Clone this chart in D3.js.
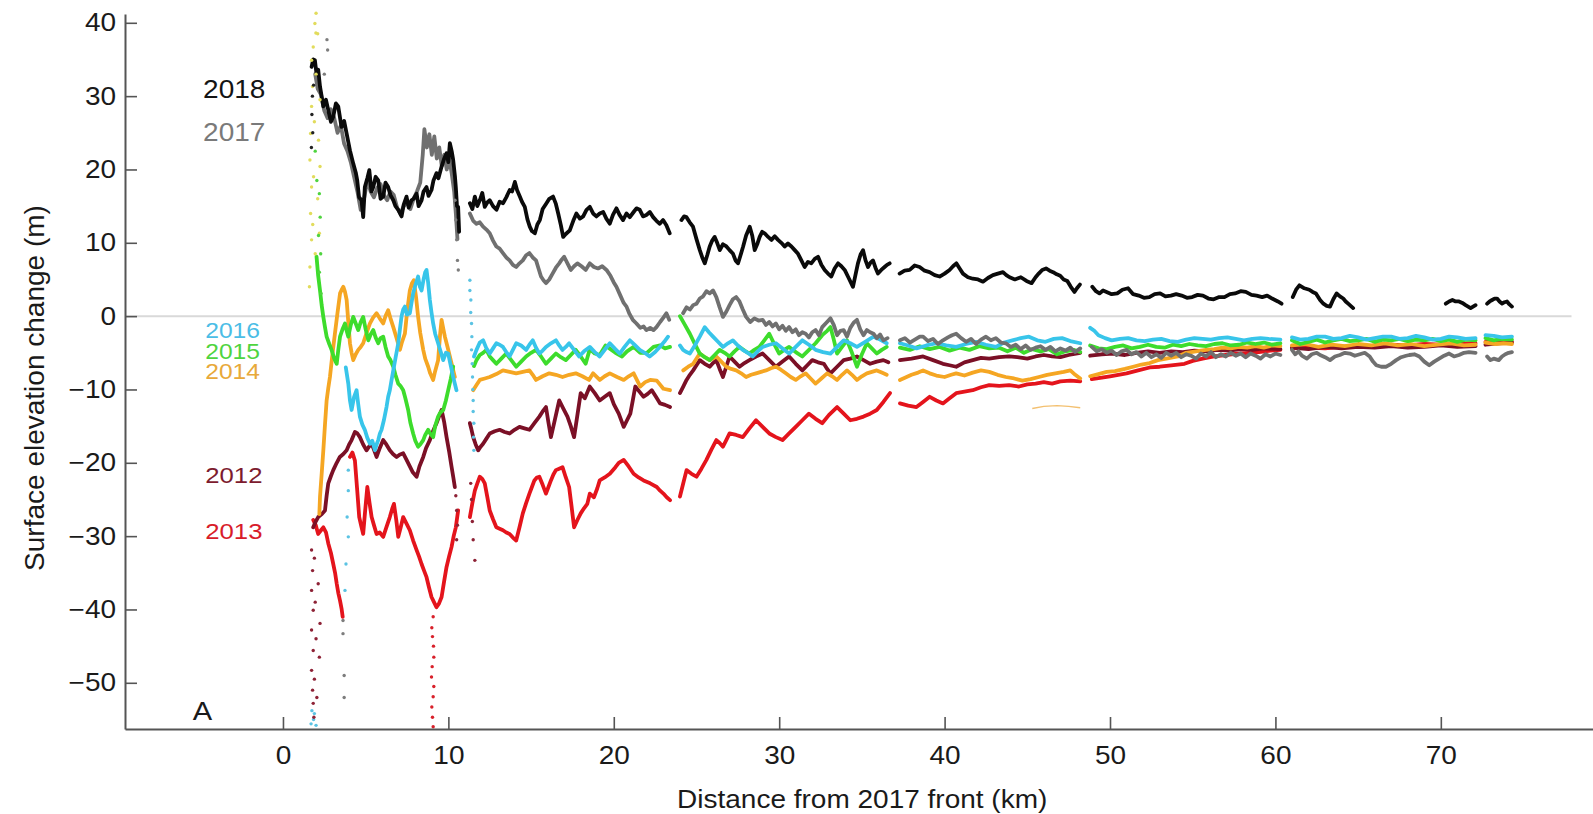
<!DOCTYPE html>
<html>
<head>
<meta charset="utf-8">
<script src="https://cdn.jsdelivr.net/npm/d3@7"></script>
<style>
  body { margin: 0; background: #fff; }
  text { font-family: "Liberation Sans", Arial, Helvetica, sans-serif; }
</style>
</head>
<body>
<div id="chart"></div>
<script>
// distance from 2017 front (km), surface elevation change (m); null marks a gap in the track
var s2018 = [[1.73,34.0],[1.83,35.0],[1.93,34.9],[2.03,33.0],[2.13,33.6],[2.24,31.3],[2.44,28.6],[2.6,29.5],[2.74,28.1],[2.9,26.5],[3.04,27.2],[3.2,29.0],[3.34,28.6],[3.54,25.8],[3.7,26.6],[3.85,24.9],[4.05,22.6],[4.25,20.8],[4.4,19.6],[4.49,18.5],[4.6,16.2],[4.75,15.8],[4.85,13.5],[4.95,17.6],[5.1,18.8],[5.22,19.9],[5.35,17.0],[5.46,17.6],[5.6,19.0],[5.76,18.5],[5.9,16.0],[6.06,16.3],[6.2,18.2],[6.36,17.6],[6.5,16.5],[6.67,15.8],[6.8,15.0],[6.97,14.5],[7.17,13.6],[7.3,15.2],[7.47,16.3],[7.6,14.8],[7.77,15.8],[7.9,16.0],[8.08,16.7],[8.2,15.0],[8.38,15.8],[8.5,17.0],[8.68,17.6],[8.8,16.4],[8.98,17.2],[9.1,18.5],[9.28,19.5],[9.4,18.8],[9.59,20.4],[9.75,21.5],[9.89,22.2],[10.0,21.0],[10.09,23.6],[10.2,22.5],[10.29,21.3],[10.4,19.0],[10.45,17.6],[10.52,15.0],[10.59,14.9],[10.65,11.5],
  [10.9,null],
  [11.3,15.4],[11.45,14.6],[11.6,16.3],[11.75,15.0],[11.9,15.8],[12.05,16.8],[12.2,14.9],[12.35,15.5],[12.5,15.8],[12.7,15.0],[12.91,14.5],[13.1,15.6],[13.31,15.4],[13.5,16.2],[13.71,17.2],[13.85,17.0],[14.02,18.3],[14.15,17.2],[14.32,16.3],[14.45,15.6],[14.62,14.9],[14.78,13.2],[14.92,12.2],[15.05,11.6],[15.23,11.3],[15.38,12.5],[15.53,13.1],[15.7,14.6],[15.93,15.4],[16.1,16.0],[16.33,16.3],[16.5,15.3],[16.64,14.0],[16.8,12.4],[16.94,10.8],[17.1,11.2],[17.34,11.7],[17.55,13.0],[17.74,14.0],[17.95,13.3],[18.15,13.6],[18.35,14.5],[18.55,14.9],[18.75,14.0],[18.95,13.6],[19.15,14.0],[19.36,14.2],[19.55,13.3],[19.76,12.6],[19.95,13.8],[20.16,14.7],[20.35,13.8],[20.56,13.1],[20.77,14.0],[20.97,13.5],[21.2,14.2],[21.37,14.7],[21.57,14.5],[21.77,13.6],[21.97,13.8],[22.18,14.2],[22.38,13.5],[22.58,13.0],[22.78,12.6],[22.98,13.1],[23.18,12.4],[23.38,11.3],
  [23.7,null],
  [24.09,13.1],[24.25,13.6],[24.39,13.5],[24.59,12.8],[24.79,12.2],[25.0,10.5],[25.2,9.0],[25.35,8.0],[25.5,7.2],[25.65,8.3],[25.8,9.5],[25.95,10.3],[26.1,10.8],[26.25,10.0],[26.41,9.0],[26.6,9.8],[26.81,9.5],[27.0,9.0],[27.21,8.5],[27.36,7.6],[27.51,7.2],[27.65,8.2],[27.82,9.5],[28.0,11.0],[28.22,12.2],[28.37,11.0],[28.52,9.0],[28.67,9.8],[28.82,10.8],[28.97,11.5],[29.12,11.3],[29.33,10.8],[29.53,10.4],[29.73,10.9],[29.93,10.4],[30.13,10.0],[30.33,9.5],[30.53,9.9],[30.74,9.5],[30.94,9.0],[31.14,8.5],[31.34,7.6],[31.54,6.7],[31.74,7.4],[31.94,7.2],[32.15,7.8],[32.35,8.1],[32.55,7.0],[32.75,6.3],[32.95,5.8],[33.15,5.4],[33.35,6.5],[33.56,7.2],[33.76,6.8],[33.96,6.3],[34.2,5.2],[34.46,4.0],[34.6,5.5],[34.76,7.2],[34.92,8.4],[35.07,9.0],[35.22,7.6],[35.37,6.7],[35.52,7.3],[35.67,7.6],[35.82,6.6],[35.97,5.8],[36.17,6.3],[36.37,6.7],[36.52,7.0],[36.68,7.2],
  [37.0,null],
  [37.28,5.8],[37.58,6.2],[37.89,6.3],[38.19,6.9],[38.49,6.7],[38.79,6.2],[39.09,6.0],[39.4,5.6],[39.7,5.4],[40.0,5.8],[40.3,6.3],[40.51,6.8],[40.71,7.2],[40.91,6.5],[41.11,5.8],[41.41,5.3],[41.71,5.1],[42.02,5.0],[42.32,4.7],[42.62,5.2],[42.92,5.6],[43.22,5.8],[43.53,6.0],[43.73,5.6],[43.93,5.3],[44.25,5.0],[44.61,5.3],[44.95,4.8],[45.26,4.5],[45.5,5.3],[45.69,5.8],[45.9,6.3],[46.13,6.5],[46.35,6.2],[46.56,6.0],[46.78,5.7],[46.99,5.5],[47.2,5.0],[47.42,4.8],[47.63,4.0],[47.85,3.3],[48.0,3.8],[48.18,4.3],
  [48.5,null],
  [48.93,4.0],[49.15,3.4],[49.36,3.1],[49.58,3.5],[49.79,3.3],[50.1,3.0],[50.44,3.1],[50.75,3.6],[51.09,3.8],[51.4,3.0],[51.74,2.8],[52.05,2.5],[52.38,2.6],[52.7,3.0],[53.03,3.1],[53.35,2.7],[53.68,2.8],[54.0,3.0],[54.33,2.8],[54.65,2.5],[54.97,2.6],[55.3,2.9],[55.62,2.8],[55.95,2.4],[56.27,2.3],[56.6,2.6],[56.92,2.6],[57.25,3.0],[57.56,3.1],[57.9,3.4],[58.21,3.3],[58.55,2.9],[58.86,2.8],[59.2,2.6],[59.5,2.8],[59.8,2.4],[60.15,2.0],[60.37,1.7],
  [60.7,null],
  [61.05,2.6],[61.25,3.6],[61.45,4.2],[61.75,3.8],[62.05,3.6],[62.25,3.3],[62.45,3.1],[62.7,2.2],[62.9,1.7],[63.1,1.4],[63.3,1.3],[63.5,2.3],[63.7,3.1],[63.9,2.7],[64.1,2.4],[64.25,2.0],[64.4,1.7],[64.55,1.4],[64.7,1.1],
  [65.0,null],
  [70.3,1.7],[70.5,2.0],[70.7,2.2],[70.9,2.0],[71.1,2.0],[71.3,1.8],[71.5,1.5],[71.65,1.3],[71.8,1.1],[71.95,1.3],[72.1,1.5],
  [72.4,null],
  [72.8,1.7],[72.95,2.0],[73.1,2.2],[73.25,2.4],[73.4,2.4],[73.55,2.0],[73.7,1.7],[73.85,1.9],[74.0,2.0],[74.15,1.6],[74.3,1.3]];

var s2017 = [[1.95,33.0],[2.1,31.0],[2.3,30.2],[2.5,28.0],[2.7,27.0],[2.9,28.2],[3.1,27.0],[3.3,25.0],[3.5,26.0],[3.7,23.5],[3.9,22.5],[4.1,21.0],[4.3,19.0],[4.5,17.0],[4.7,14.5],[4.9,16.0],[5.1,18.5],[5.3,17.0],[5.5,16.2],[5.7,17.5],[5.9,18.0],[6.1,16.5],[6.3,15.8],[6.5,17.0],[6.7,16.5],[6.9,14.8],[7.1,14.0],[7.3,15.0],[7.5,15.5],[7.7,14.6],[7.9,16.0],[8.1,17.0],[8.3,18.2],[8.45,22.0],[8.55,25.5],[8.7,23.0],[8.85,24.8],[9.0,22.0],[9.15,24.5],[9.3,21.5],[9.45,23.0],[9.6,20.5],[9.75,22.0],[9.9,20.0],[10.05,21.5],[10.2,19.5],[10.35,17.0],[10.45,14.0],[10.55,10.5],
  [10.9,null],
  [11.3,14.0],[11.5,13.0],[11.7,12.6],[11.9,12.8],[12.1,12.2],[12.3,11.8],[12.5,11.3],[12.7,10.3],[12.9,9.5],[13.1,9.2],[13.3,8.6],[13.5,8.0],[13.7,7.6],[13.9,7.0],[14.1,6.7],[14.3,7.2],[14.5,7.6],[14.7,8.3],[14.9,8.6],[15.1,8.0],[15.3,7.6],[15.45,6.5],[15.6,5.4],[15.75,4.9],[15.9,4.5],[16.1,5.0],[16.3,5.8],[16.5,6.6],[16.7,7.2],[16.85,7.7],[17.0,8.1],[17.2,7.2],[17.4,6.3],[17.6,6.8],[17.8,7.2],[18.05,6.8],[18.3,6.3],[18.55,7.2],[18.8,6.7],[19.05,6.5],[19.3,6.8],[19.56,6.3],[19.8,5.5],[20.0,4.6],[20.16,4.0],[20.4,2.8],[20.6,1.8],[20.77,1.3],[20.95,0.3],[21.15,-0.5],[21.37,-1.0],[21.6,-1.6],[21.8,-1.4],[21.97,-1.9],[22.2,-1.6],[22.4,-1.9],[22.58,-1.5],[22.8,-0.8],[23.0,-0.2],[23.18,0.4],[23.35,-0.5],
  [23.7,null],
  [24.19,0.4],[24.4,1.2],[24.6,0.9],[24.8,1.5],[25.0,1.7],[25.2,2.4],[25.4,2.7],[25.6,3.4],[25.8,3.1],[26.0,3.5],[26.2,2.6],[26.4,1.2],[26.6,-0.1],[26.8,0.6],[27.0,1.5],[27.2,2.3],[27.4,2.6],[27.6,2.0],[27.8,0.9],[28.0,-0.1],[28.25,-0.8],[28.5,-0.3],[28.75,-0.6],[29.0,-0.5],[29.2,-1.2],[29.4,-0.8],[29.6,-1.4],[29.8,-1.0],[30.0,-1.8],[30.2,-1.3],[30.4,-2.0],[30.6,-1.5],[30.8,-2.2],[31.0,-1.8],[31.2,-2.6],[31.4,-2.2],[31.6,-2.4],[31.8,-2.9],[32.0,-2.2],[32.2,-1.9],[32.4,-2.6],[32.6,-1.5],[32.85,-0.9],[33.1,-0.3],[33.3,-1.2],[33.5,-2.6],[33.7,-2.0],[33.9,-1.9],[34.1,-2.8],[34.3,-1.6],[34.5,-0.9],[34.7,-0.5],[34.9,-1.8],[35.1,-2.6],[35.3,-1.9],[35.5,-2.2],[35.7,-2.4],[35.9,-3.0],[36.1,-2.5],[36.3,-3.3],[36.55,-3.0],
  [37.0,null],
  [37.3,-3.3],[37.6,-3.0],[37.9,-3.6],[38.2,-3.2],[38.5,-2.8],[38.7,-2.8],[39.0,-3.4],[39.3,-3.1],[39.6,-3.8],[39.9,-3.3],[40.2,-2.9],[40.45,-2.6],[40.7,-2.4],[41.0,-3.0],[41.3,-3.5],[41.6,-3.1],[41.9,-3.8],[42.2,-3.2],[42.5,-2.8],[42.8,-3.3],[43.1,-3.0],[43.4,-3.6],[43.7,-3.7],[44.0,-4.2],[44.3,-3.9],[44.6,-4.5],[44.9,-4.0],[45.2,-4.6],[45.5,-4.3],[45.8,-4.1],[46.1,-4.6],[46.4,-4.2],[46.7,-4.8],[47.0,-4.4],[47.3,-4.7],[47.6,-4.3],[47.9,-4.9],[48.2,-4.4],
  [48.5,null],
  [48.9,-4.2],[49.2,-4.8],[49.5,-4.5],[49.8,-5.0],[50.1,-4.7],[50.4,-5.3],[50.7,-4.8],[51.0,-4.6],[51.3,-5.2],[51.6,-4.9],[51.9,-5.5],[52.2,-5.0],[52.5,-5.6],[52.8,-5.2],[53.1,-5.7],[53.4,-5.0],[53.7,-5.4],[54.0,-5.0],[54.3,-5.6],[54.6,-5.2],[54.9,-5.4],[55.2,-5.8],[55.5,-5.1],[55.8,-5.5],[56.1,-4.9],[56.4,-5.6],[56.7,-5.2],[57.0,-5.5],[57.3,-5.0],[57.6,-5.4],[57.9,-5.1],[58.2,-5.6],[58.5,-5.1],[58.8,-5.4],[59.1,-5.8],[59.4,-5.2],[59.7,-5.5],[60.0,-5.1],[60.3,-5.3],
  [60.7,null],
  [61.0,-4.6],[61.2,-5.2],[61.4,-4.8],[61.6,-5.4],[61.9,-5.8],[62.2,-5.2],[62.5,-5.0],[62.7,-5.3],[63.0,-5.6],[63.3,-6.0],[63.6,-5.5],[63.9,-5.3],[64.2,-5.0],[64.5,-5.1],[64.8,-5.4],[65.1,-5.2],[65.4,-5.0],[65.7,-5.5],[65.9,-6.2],[66.1,-6.7],[66.4,-6.9],[66.7,-6.9],[67.0,-6.5],[67.3,-6.0],[67.6,-5.6],[67.9,-5.4],[68.1,-5.3],[68.4,-5.2],[68.7,-5.5],[69.0,-6.2],[69.3,-6.7],[69.6,-6.2],[69.9,-5.8],[70.2,-5.4],[70.5,-5.1],[70.8,-5.5],[71.1,-5.3],[71.4,-5.0],[71.7,-4.9],[72.1,-5.0],
  [72.4,null],
  [72.8,-5.5],[73.0,-6.0],[73.2,-5.8],[73.5,-6.0],[73.7,-5.5],[73.9,-5.2],[74.1,-5.0],[74.3,-4.9]];

var s2016 = [[3.8,-7.0],[3.95,-9.2],[4.05,-11.5],[4.15,-12.8],[4.3,-11.0],[4.45,-10.1],[4.55,-12.0],[4.65,-13.7],[4.8,-14.8],[4.95,-15.5],[5.1,-16.6],[5.26,-17.4],[5.4,-17.0],[5.56,-18.3],[5.66,-17.5],[5.76,-16.9],[5.86,-16.0],[5.96,-15.5],[6.1,-14.2],[6.26,-12.4],[6.36,-11.0],[6.46,-10.1],[6.56,-8.8],[6.67,-7.4],[6.82,-5.5],[6.97,-3.7],[7.07,-1.8],[7.17,0.0],[7.27,0.9],[7.37,1.3],[7.5,0.2],[7.67,0.4],[7.77,1.8],[7.87,3.1],[8.0,4.2],[8.17,5.4],[8.28,4.0],[8.38,3.5],[8.5,5.0],[8.6,6.0],[8.68,6.3],[8.78,4.5],[8.88,2.2],[8.98,0.5],[9.08,-1.0],[9.2,-2.4],[9.38,-3.7],[9.5,-4.6],[9.69,-6.0],[9.85,-5.0],[9.99,-5.1],[10.15,-6.8],[10.29,-8.3],[10.49,-10.1],
  [10.9,null],
  [11.55,-5.5],[11.7,-4.6],[11.9,-3.6],[12.1,-3.3],[12.3,-4.4],[12.5,-5.1],[12.7,-4.4],[12.9,-3.7],[13.1,-3.9],[13.3,-4.2],[13.5,-4.9],[13.7,-5.5],[13.9,-4.6],[14.1,-3.7],[14.4,-4.0],[14.7,-4.6],[14.9,-3.9],[15.1,-3.3],[15.3,-4.3],[15.5,-5.1],[15.7,-4.7],[15.9,-4.2],[16.2,-3.7],[16.5,-3.3],[16.7,-4.0],[16.9,-4.6],[17.1,-4.2],[17.3,-3.7],[17.6,-4.6],[17.9,-5.5],[18.2,-4.8],[18.55,-4.2],[18.85,-4.9],[19.15,-5.5],[19.45,-4.6],[19.76,-3.7],[20.05,-4.4],[20.36,-5.1],[20.65,-4.2],[20.97,-3.3],[21.25,-3.9],[21.57,-4.6],[21.87,-5.0],[22.17,-5.5],[22.5,-4.9],[22.78,-4.2],[23.05,-3.5],[23.28,-2.8],
  [23.7,null],
  [24.0,-4.0],[24.19,-4.6],[24.4,-4.9],[24.6,-5.1],[24.9,-4.0],[25.2,-2.8],[25.5,-1.5],[25.75,-2.2],[26.0,-2.8],[26.3,-3.5],[26.6,-4.2],[26.9,-3.7],[27.2,-3.3],[27.5,-4.0],[27.8,-4.6],[28.1,-5.0],[28.4,-5.5],[28.7,-4.8],[29.0,-4.2],[29.4,-3.9],[29.8,-3.7],[30.2,-4.4],[30.6,-5.1],[31.0,-4.2],[31.4,-3.3],[31.8,-3.9],[32.2,-4.6],[32.65,-4.9],[33.1,-5.1],[33.5,-4.2],[33.9,-3.3],[34.3,-3.7],[34.7,-4.2],[35.2,-3.5],[35.7,-2.8],[36.1,-3.2],[36.5,-3.7],
  [37.0,null],
  [37.3,-3.7],[37.8,-4.0],[38.3,-4.4],[38.9,-4.0],[39.5,-3.7],[40.1,-4.0],[40.7,-4.2],[41.3,-3.8],[41.9,-3.5],[42.5,-3.9],[43.1,-4.2],[43.6,-3.6],[44.1,-3.3],[44.6,-3.0],[45.1,-2.8],[45.6,-3.3],[46.1,-3.5],[46.6,-3.1],[47.1,-3.0],[47.6,-3.4],[48.2,-3.7],
  [48.5,null],
  [48.8,-1.6],[49.05,-2.0],[49.3,-2.6],[49.7,-3.0],[50.1,-3.3],[50.6,-3.1],[51.1,-3.0],[51.6,-3.3],[52.1,-3.4],[52.6,-3.2],[53.1,-3.1],[53.6,-3.4],[54.1,-3.5],[54.6,-3.2],[55.1,-3.0],[55.6,-3.1],[56.1,-3.2],[56.6,-3.0],[57.1,-2.9],[57.6,-3.1],[58.1,-3.3],[58.6,-3.1],[59.1,-3.0],[59.6,-3.1],[60.3,-3.2],
  [60.7,null],
  [61.0,-2.9],[61.5,-3.2],[62.0,-3.1],[62.5,-2.8],[63.0,-2.8],[63.5,-3.1],[64.0,-3.0],[64.5,-2.7],[65.0,-2.9],[65.5,-3.2],[66.0,-3.0],[66.5,-2.8],[67.0,-2.8],[67.5,-3.1],[68.0,-3.0],[68.5,-2.7],[69.0,-2.9],[69.5,-3.2],[70.0,-3.1],[70.5,-2.8],[71.0,-2.9],[71.5,-3.1],[72.1,-3.0],
  [72.4,null],
  [72.7,-2.6],[73.2,-2.7],[73.7,-2.9],[74.3,-2.8]];

var s2015 = [[2.03,8.1],[2.13,5.5],[2.24,3.5],[2.34,1.5],[2.44,-0.1],[2.54,-1.5],[2.64,-2.8],[2.8,-3.8],[2.94,-4.6],[3.1,-5.8],[3.25,-6.5],[3.35,-4.5],[3.45,-2.8],[3.6,-1.8],[3.75,-1.0],[3.85,-2.0],[3.95,-2.8],[4.1,-1.2],[4.25,-0.1],[4.4,-1.0],[4.55,-1.9],[4.7,-0.8],[4.85,-0.1],[5.0,-1.8],[5.16,-3.3],[5.3,-2.5],[5.46,-1.9],[5.6,-2.9],[5.76,-3.7],[5.9,-3.0],[6.06,-2.8],[6.2,-4.2],[6.36,-5.5],[6.5,-6.0],[6.67,-6.9],[6.8,-8.0],[6.97,-9.2],[7.1,-9.5],[7.27,-10.1],[7.4,-11.2],[7.57,-12.8],[7.7,-14.5],[7.87,-16.0],[8.0,-17.0],[8.17,-17.8],[8.3,-17.5],[8.48,-16.9],[8.6,-16.2],[8.78,-15.5],[8.9,-16.0],[9.08,-16.5],[9.2,-15.0],[9.38,-13.7],[9.5,-13.2],[9.69,-12.8],[9.85,-11.5],[9.99,-10.1],[10.15,-8.5],[10.29,-6.9],
  [10.9,null],
  [11.55,-6.8],[11.7,-6.0],[11.9,-5.3],[12.1,-5.0],[12.3,-4.6],[12.5,-5.5],[12.7,-6.0],[12.9,-6.5],[13.2,-5.8],[13.5,-5.1],[13.8,-6.0],[14.1,-6.9],[14.4,-6.2],[14.7,-5.5],[15.0,-5.0],[15.3,-4.6],[15.6,-5.5],[15.9,-6.5],[16.2,-5.8],[16.5,-5.1],[16.8,-5.6],[17.1,-6.0],[17.4,-5.3],[17.7,-4.6],[18.0,-5.5],[18.3,-6.5],[18.55,-4.5],[18.85,-5.1],[19.15,-5.3],[19.5,-4.0],[19.8,-4.5],[20.1,-5.0],[20.5,-5.5],[20.8,-4.8],[21.2,-4.2],[21.6,-5.0],[22.0,-5.0],[22.4,-4.2],[22.8,-4.0],[23.1,-4.4],[23.4,-4.2],
  [23.7,null],
  [24.0,0.0],[24.3,-1.2],[24.6,-2.4],[24.9,-3.8],[25.2,-5.1],[25.5,-5.6],[25.8,-6.0],[26.1,-5.3],[26.4,-4.6],[26.7,-5.0],[27.0,-5.5],[27.3,-4.8],[27.6,-4.2],[27.9,-4.7],[28.2,-5.1],[28.5,-4.6],[28.8,-4.2],[29.1,-3.3],[29.4,-2.4],[29.7,-3.8],[30.0,-5.1],[30.3,-4.6],[30.6,-4.2],[31.0,-4.9],[31.4,-5.5],[31.8,-4.6],[32.2,-3.7],[32.6,-2.6],[32.9,-2.0],[33.1,-1.5],[33.3,-3.2],[33.5,-5.1],[33.8,-4.2],[34.1,-3.3],[34.4,-5.0],[34.7,-6.9],[35.0,-5.2],[35.3,-3.7],[35.6,-4.4],[35.9,-5.1],[36.2,-4.6],[36.5,-4.2],
  [37.0,null],
  [37.3,-4.3],[37.9,-4.6],[38.5,-4.1],[39.1,-4.5],[39.7,-4.2],[40.3,-4.7],[40.9,-4.3],[41.5,-4.6],[42.1,-4.1],[42.7,-4.4],[43.3,-4.3],[43.8,-4.8],[44.3,-4.3],[44.8,-5.0],[45.3,-4.5],[45.8,-4.8],[46.3,-4.5],[46.8,-5.2],[47.3,-4.8],[47.8,-4.6],[48.2,-4.9],
  [48.5,null],
  [48.8,-4.0],[49.3,-4.4],[49.8,-4.5],[50.3,-4.2],[50.8,-4.0],[51.3,-4.4],[51.8,-4.2],[52.3,-3.9],[52.8,-4.2],[53.3,-4.3],[53.8,-3.9],[54.3,-4.1],[54.8,-3.8],[55.3,-4.0],[55.8,-4.1],[56.3,-3.8],[56.8,-3.7],[57.3,-4.0],[57.8,-3.9],[58.3,-3.6],[58.8,-3.8],[59.3,-3.6],[59.8,-3.9],[60.3,-3.7],
  [60.7,null],
  [61.0,-3.3],[61.5,-3.8],[62.0,-3.5],[62.5,-3.2],[63.0,-3.6],[63.5,-3.3],[64.0,-3.1],[64.5,-3.4],[65.0,-3.3],[65.5,-3.1],[66.0,-3.5],[66.5,-3.2],[67.0,-3.3],[67.5,-3.1],[68.0,-3.4],[68.5,-3.2],[69.0,-3.3],[69.5,-3.1],[70.0,-3.4],[70.5,-3.2],[71.0,-3.5],[71.5,-3.2],[72.1,-3.3],
  [72.4,null],
  [72.7,-3.0],[73.2,-3.3],[73.7,-3.1],[74.3,-3.2]];

var s2014 = [[2.2,-27.0],[2.24,-24.6],[2.34,-21.5],[2.44,-18.3],[2.54,-14.8],[2.64,-11.5],[2.74,-9.8],[2.84,-8.3],[3.0,-5.0],[3.14,-2.4],[3.3,0.5],[3.45,3.1],[3.55,3.6],[3.65,4.0],[3.75,3.3],[3.85,2.2],[3.95,-0.8],[4.05,-3.7],[4.15,-5.0],[4.25,-6.0],[4.4,-5.2],[4.55,-4.6],[4.7,-4.2],[4.85,-3.7],[5.05,-2.3],[5.26,-1.0],[5.45,-0.2],[5.66,0.4],[5.85,-0.3],[6.06,-1.0],[6.2,0.0],[6.36,0.8],[6.5,-0.3],[6.67,-1.5],[6.87,-3.0],[7.07,-4.6],[7.2,-3.5],[7.37,-2.4],[7.5,0.5],[7.67,3.5],[7.8,4.5],[7.91,4.9],[8.05,2.5],[8.17,-0.1],[8.3,-2.3],[8.48,-4.6],[8.6,-5.8],[8.78,-6.9],[8.9,-7.8],[9.08,-8.7],[9.2,-7.5],[9.38,-6.0],[9.5,-2.5],[9.59,-0.5],[9.7,-1.8],[9.79,-2.8],[9.95,-4.2],[10.09,-5.5],[10.25,-7.0],[10.39,-8.3],
  [10.9,null],
  [11.5,-10.1],[11.7,-9.4],[11.9,-8.7],[12.2,-8.5],[12.5,-8.3],[12.9,-7.9],[13.3,-7.4],[13.7,-7.6],[14.1,-7.8],[14.5,-7.6],[14.9,-7.4],[15.1,-8.0],[15.3,-8.7],[15.7,-8.2],[16.1,-7.8],[16.5,-8.0],[16.9,-8.3],[17.3,-8.0],[17.7,-7.8],[18.1,-8.2],[18.5,-8.7],[18.75,-7.8],[19.15,-8.7],[19.45,-8.2],[19.76,-7.8],[20.2,-8.3],[20.6,-8.7],[20.9,-8.2],[21.2,-7.8],[21.6,-9.6],[21.9,-9.0],[22.2,-8.7],[22.6,-8.8],[23.0,-9.9],[23.4,-10.1],
  [23.7,null],
  [24.2,-7.4],[24.5,-6.9],[24.8,-6.5],[25.2,-5.1],[25.5,-5.6],[25.8,-6.0],[26.2,-5.5],[26.5,-6.2],[26.8,-6.9],[27.1,-7.2],[27.4,-7.4],[27.7,-7.8],[28.0,-8.3],[28.3,-8.0],[28.6,-7.8],[28.9,-7.6],[29.2,-7.4],[29.5,-7.1],[29.8,-6.9],[30.1,-7.3],[30.4,-7.8],[30.7,-8.3],[31.0,-8.7],[31.3,-8.2],[31.6,-7.8],[31.9,-8.5],[32.2,-9.2],[32.55,-8.5],[32.9,-7.8],[33.2,-8.2],[33.5,-8.7],[33.8,-8.0],[34.1,-7.4],[34.4,-8.0],[34.7,-8.7],[35.0,-8.2],[35.3,-7.8],[35.6,-7.6],[35.9,-7.4],[36.2,-7.7],[36.5,-8.0],
  [37.0,null],
  [37.3,-8.7],[37.7,-8.3],[38.0,-8.0],[38.4,-7.7],[38.7,-7.4],[39.1,-7.8],[39.5,-8.1],[40.0,-8.3],[40.4,-8.0],[40.7,-7.8],[41.2,-8.1],[41.7,-7.7],[42.2,-7.4],[42.7,-7.6],[43.2,-8.0],[43.7,-8.3],[44.2,-8.5],[44.7,-8.8],[45.2,-8.6],[45.7,-8.3],[46.2,-8.0],[46.7,-7.8],[47.2,-7.6],[47.6,-7.4],[47.9,-8.0],[48.2,-8.5],
  [48.5,null],
  [48.8,-8.2],[49.3,-7.9],[49.8,-7.6],[50.3,-7.5],[50.9,-7.2],[51.4,-6.9],[51.9,-6.6],[52.4,-6.4],[52.9,-6.0],[53.4,-5.8],[54.1,-5.5],[54.6,-5.0],[55.2,-4.8],[55.8,-4.6],[56.3,-4.5],[56.8,-4.3],[57.3,-4.4],[57.8,-4.2],[58.3,-4.3],[58.8,-4.1],[59.3,-4.3],[59.8,-4.0],[60.3,-4.1],
  [60.7,null],
  [61.0,-4.0],[61.8,-3.8],[62.6,-4.2],[63.4,-3.9],[64.2,-4.1],[65.0,-3.8],[65.8,-4.0],[66.6,-3.7],[67.4,-4.0],[68.2,-3.8],[69.0,-4.1],[69.8,-3.9],[70.6,-3.7],[71.4,-4.0],[72.1,-3.9],
  [72.4,null],
  [72.7,-3.6],[73.3,-3.8],[73.8,-3.7],[74.3,-3.8]];

// faint isolated 2014 arc near 46 km
var s2014arc = [[45.3,-12.6],[46.0,-12.3],[46.8,-12.2],[47.5,-12.3],[48.2,-12.5]];

var s2012 = [[1.83,-28.8],[1.98,-28.0],[2.13,-27.4],[2.35,-27.0],[2.54,-26.5],[2.64,-24.5],[2.74,-22.8],[2.9,-21.8],[3.04,-21.0],[3.25,-20.0],[3.44,-19.2],[3.65,-18.8],[3.85,-18.3],[4.0,-17.5],[4.15,-16.9],[4.35,-15.8],[4.5,-16.0],[4.65,-16.5],[4.85,-17.5],[5.05,-18.3],[5.2,-17.8],[5.36,-17.4],[5.5,-18.2],[5.66,-19.2],[5.85,-18.0],[6.06,-16.9],[6.25,-17.5],[6.46,-18.3],[6.65,-18.8],[6.87,-19.2],[7.05,-18.9],[7.27,-18.7],[7.45,-19.5],[7.67,-20.5],[7.85,-21.3],[8.08,-21.9],[8.25,-20.5],[8.48,-19.2],[8.65,-18.0],[8.88,-16.9],[9.05,-15.8],[9.28,-14.6],[9.45,-13.6],[9.59,-12.8],[9.75,-14.5],[9.89,-16.5],[10.05,-18.5],[10.19,-20.5],[10.3,-22.0],[10.39,-23.3],
  [10.9,null],
  [11.3,-14.6],[11.4,-15.5],[11.5,-16.5],[11.65,-17.5],[11.8,-18.3],[11.95,-17.8],[12.1,-17.4],[12.3,-16.7],[12.5,-16.0],[12.8,-15.7],[13.1,-15.5],[13.4,-15.8],[13.7,-16.0],[14.0,-15.5],[14.3,-15.1],[14.6,-15.3],[14.9,-15.5],[15.2,-14.6],[15.5,-13.7],[15.7,-13.0],[15.9,-12.4],[16.05,-14.5],[16.2,-16.5],[16.45,-14.0],[16.7,-11.5],[16.95,-12.6],[17.2,-13.7],[17.4,-15.0],[17.6,-16.5],[17.8,-13.5],[18.0,-10.5],[18.25,-11.2],[18.55,-9.6],[18.85,-10.5],[19.15,-11.5],[19.45,-11.0],[19.76,-10.5],[20.0,-12.0],[20.3,-13.3],[20.6,-15.1],[20.8,-14.2],[21.0,-13.3],[21.15,-11.5],[21.3,-9.6],[21.55,-10.3],[21.8,-11.0],[22.05,-10.6],[22.3,-10.1],[22.55,-11.0],[22.8,-11.9],[23.1,-12.1],[23.4,-12.4],
  [23.7,null],
  [24.0,-10.5],[24.2,-9.6],[24.4,-8.7],[24.6,-8.0],[24.8,-7.4],[25.0,-6.7],[25.2,-6.0],[25.5,-6.5],[25.8,-6.9],[26.0,-6.4],[26.2,-6.0],[26.4,-7.2],[26.6,-8.3],[26.8,-6.9],[27.0,-5.5],[27.3,-6.2],[27.6,-6.9],[27.9,-6.4],[28.2,-6.0],[28.6,-5.5],[29.0,-5.1],[29.4,-6.0],[29.8,-6.9],[30.2,-6.2],[30.6,-5.5],[31.0,-6.5],[31.4,-7.4],[31.7,-6.7],[32.0,-6.0],[32.35,-6.3],[32.7,-6.5],[32.9,-7.2],[33.1,-7.8],[33.5,-6.9],[33.9,-6.0],[34.3,-5.8],[34.7,-5.5],[35.1,-6.0],[35.5,-6.5],[35.9,-6.2],[36.3,-6.0],[36.6,-6.3],
  [37.0,null],
  [37.3,-6.0],[38.0,-5.8],[38.7,-5.5],[39.3,-6.0],[39.9,-6.5],[40.3,-6.7],[40.7,-6.9],[41.2,-6.3],[41.7,-6.0],[42.2,-5.7],[42.7,-5.8],[43.3,-5.6],[43.9,-5.5],[44.4,-5.6],[45.0,-5.8],[45.5,-5.5],[46.0,-5.3],[46.5,-5.5],[47.0,-5.6],[47.5,-5.3],[48.2,-5.0],
  [48.5,null],
  [48.8,-5.4],[49.5,-5.2],[50.2,-5.1],[50.9,-5.3],[51.6,-5.0],[52.3,-4.8],[53.0,-5.0],[53.7,-4.8],[54.4,-4.9],[55.1,-4.7],[55.8,-4.8],[56.5,-4.6],[57.2,-4.7],[57.9,-4.5],[58.6,-4.6],[59.3,-4.4],[60.3,-4.5],
  [60.7,null],
  [61.0,-4.3],[62.0,-4.5],[63.0,-4.2],[64.0,-4.4],[65.0,-4.2],[66.0,-4.3],[67.0,-4.1],[68.0,-4.3],[69.0,-4.2],[70.0,-4.0],[71.0,-4.2],[72.1,-4.1],
  [72.4,null],
  [72.7,-3.9],[73.5,-3.7],[74.3,-3.6]];

var s2013 = [[1.83,-27.8],[1.98,-28.5],[2.13,-29.7],[2.3,-29.2],[2.44,-28.8],[2.6,-29.5],[2.74,-31.0],[2.9,-32.3],[3.04,-33.8],[3.15,-35.0],[3.25,-36.5],[3.35,-37.8],[3.45,-38.8],[3.55,-40.0],[3.61,-41.0],
  [3.8,null],
  [4.05,-19.2],[4.2,-18.6],[4.35,-19.7],[4.48,-23.5],[4.61,-27.4],[4.73,-28.6],[4.85,-29.7],[4.97,-26.5],[5.1,-23.3],[5.23,-25.4],[5.36,-27.4],[5.5,-28.5],[5.66,-29.7],[5.85,-29.5],[6.06,-30.1],[6.25,-28.8],[6.46,-27.4],[6.6,-26.3],[6.71,-25.6],[6.85,-27.8],[6.97,-30.1],[7.12,-28.8],[7.27,-27.4],[7.47,-28.3],[7.67,-29.2],[7.87,-30.6],[8.08,-31.9],[8.23,-32.8],[8.38,-33.8],[8.53,-34.7],[8.68,-35.6],[8.83,-37.0],[8.98,-38.3],[9.13,-39.0],[9.28,-39.7],[9.43,-39.2],[9.59,-38.3],[9.74,-36.2],[9.89,-34.2],[10.04,-32.8],[10.19,-31.5],[10.32,-30.0],[10.45,-28.8],[10.59,-26.5],
  [10.9,null],
  [11.3,-27.4],[11.45,-25.5],[11.6,-23.8],[11.75,-22.8],[11.9,-21.9],[12.05,-22.2],[12.2,-22.8],[12.35,-24.6],[12.5,-26.5],[12.7,-27.7],[12.9,-28.8],[13.1,-29.0],[13.3,-29.2],[13.5,-29.5],[13.7,-29.7],[13.9,-30.2],[14.1,-30.6],[14.3,-28.8],[14.5,-26.9],[14.7,-25.5],[14.9,-24.2],[15.05,-23.3],[15.2,-22.4],[15.35,-22.0],[15.5,-21.9],[15.7,-23.0],[15.9,-24.2],[16.05,-23.3],[16.2,-22.4],[16.35,-21.6],[16.5,-21.0],[16.7,-20.8],[16.9,-20.6],[17.1,-22.0],[17.3,-23.3],[17.45,-26.0],[17.6,-28.8],[17.8,-27.8],[18.0,-26.9],[18.2,-26.2],[18.4,-25.6],[18.55,-24.2],[18.8,-24.7],[19.0,-23.5],[19.15,-22.4],[19.45,-22.0],[19.76,-21.5],[20.1,-20.6],[20.3,-20.0],[20.6,-19.6],[20.9,-20.5],[21.2,-21.5],[21.5,-22.0],[21.8,-22.4],[22.2,-22.8],[22.6,-23.3],[22.8,-23.8],[23.0,-24.2],[23.2,-24.7],[23.4,-25.1],
  [23.7,null],
  [24.0,-24.6],[24.2,-22.8],[24.4,-21.0],[24.7,-21.5],[25.0,-21.9],[25.3,-20.8],[25.6,-19.6],[25.9,-18.2],[26.2,-16.9],[26.4,-17.3],[26.6,-17.8],[26.8,-16.9],[27.0,-16.0],[27.4,-16.2],[27.8,-16.5],[28.2,-15.3],[28.6,-14.2],[29.0,-15.1],[29.4,-16.0],[29.8,-16.5],[30.2,-16.9],[30.6,-16.0],[31.0,-15.1],[31.4,-14.2],[31.8,-13.3],[32.2,-14.0],[32.6,-14.6],[33.0,-13.5],[33.5,-12.4],[33.9,-13.3],[34.3,-14.2],[34.7,-14.0],[35.1,-13.7],[35.5,-13.3],[35.9,-12.8],[36.3,-11.7],[36.7,-10.5],
  [37.0,null],
  [37.3,-11.9],[37.8,-12.2],[38.3,-12.4],[38.7,-11.7],[39.1,-11.0],[39.5,-11.5],[39.9,-11.9],[40.3,-11.2],[40.7,-10.5],[41.2,-10.3],[41.7,-10.1],[42.2,-9.7],[42.7,-9.4],[43.3,-9.5],[43.9,-9.4],[44.5,-9.6],[45.0,-9.3],[45.5,-9.2],[46.0,-9.0],[46.5,-9.2],[47.0,-8.9],[47.6,-8.8],[48.2,-8.9],
  [48.5,null],
  [48.9,-8.6],[49.5,-8.4],[50.0,-8.2],[50.5,-8.0],[51.0,-7.8],[51.7,-7.4],[52.4,-7.0],[53.0,-6.9],[53.7,-6.7],[54.5,-6.5],[55.0,-6.1],[55.6,-5.8],[56.3,-5.5],[57.0,-5.3],[57.7,-5.1],[58.4,-5.0],[59.0,-4.9],[59.7,-4.7],[60.3,-4.6],
  [60.7,null],
  [61.0,-4.4],[62.0,-4.3],[63.0,-4.4],[64.0,-4.2],[65.0,-4.0],[66.0,-4.1],[67.0,-3.9],[68.0,-4.0],[69.0,-3.8],[70.0,-3.9],[71.0,-3.8],[72.1,-3.7],
  [72.4,null],
  [72.7,-3.5],[73.5,-3.4],[74.3,-3.5]];

// scattered single returns near the front
var dotsYellow = [[2.0,41.3],[1.93,39.9],[1.99,38.6],[2.1,38.5],[1.83,36.7],[1.73,34.9],[2.0,33.0],[1.79,31.3],[2.24,29.5],[1.73,28.6],[1.9,26.5],[1.67,24.9],[2.15,24.0],[1.63,21.3],[2.24,20.4],[1.85,19.0],[1.73,17.6],[2.1,16.0],[1.67,14.0],[1.8,12.5],[2.2,11.3],[1.73,10.4],[1.95,8.5],[1.63,6.7],[1.6,4.0]];
var dotsGreen = [[1.95,22.5],[2.05,18.5],[2.2,16.7],[2.25,13.5],[2.15,11.0],[2.28,8.5],[2.2,6.0],[2.3,3.1]];
var dotsBlack = [[1.85,31.5],[1.78,30.0],[1.75,27.5],[1.8,25.0],[1.72,23.0]];
var dotsGray = [[2.66,37.7],[2.7,36.3],[2.5,33.0],[10.4,15.8],[10.45,13.1],[10.5,10.4],[10.55,7.6],[10.6,6.3],[3.63,-41.5],[3.63,-43.3],[3.7,-49.0],[3.7,-52.0]];
var dotsCyan = [[3.95,-21.0],[3.95,-23.8],[3.88,-27.4],[3.95,-30.1],[3.81,-33.8],[3.75,-37.4],[11.3,4.9],[11.3,3.5],[11.36,2.2],[11.35,0.5],[11.4,-1.0],[11.42,-2.8],[11.4,-4.6],[11.44,-6.5],[11.46,-8.3],[11.48,-10.0],[11.5,-11.5],[11.5,-13.0],[11.54,-14.6],[11.52,-16.5],[11.54,-18.3],[1.75,-53.8],[1.85,-55.0],[1.9,-54.2],[1.7,-55.6],[2.0,-55.8]];
var dotsDarkRed = [[1.73,-31.9],[1.9,-33.0],[1.79,-34.7],[2.13,-36.5],[1.73,-37.4],[1.95,-39.0],[1.83,-40.1],[2.24,-41.9],[1.73,-42.8],[2.0,-44.0],[1.83,-45.6],[2.2,-46.5],[1.73,-48.3],[1.9,-49.5],[1.79,-51.0],[2.05,-52.0],[1.83,-52.8],[1.87,-54.7],[10.45,-24.5],[10.5,-26.5],[10.55,-28.5],[10.5,-30.5],[11.35,-22.8],[11.4,-25.0],[11.45,-28.0],[11.5,-30.5],[11.6,-33.3]];
var dotsRed = [[9.08,-41.0],[9.0,-42.5],[9.04,-43.7],[9.1,-45.0],[9.12,-46.5],[9.02,-47.8],[8.98,-49.2],[9.12,-50.5],[9.08,-51.9],[9.0,-53.3],[9.04,-54.7],[9.08,-56.0]];

var xTicks = [0, 10, 20, 30, 40, 50, 60, 70];
var yTicks = [-50, -40, -30, -20, -10, 0, 10, 20, 30, 40];

var yearLabels = [
  { text: "2018", km: -4.83, dh: 29.7, color: "#141414", size: 25 },
  { text: "2017", km: -4.83, dh: 23.9, color: "#7a7a7a", size: 25 },
  { text: "2016", km: -4.7, dh: -3.0, color: "#4bbde6", size: 22 },
  { text: "2015", km: -4.7, dh: -5.8, color: "#4fd43f", size: 22 },
  { text: "2014", km: -4.7, dh: -8.6, color: "#e8a93a", size: 22 },
  { text: "2012", km: -4.7, dh: -22.8, color: "#7d1b2e", size: 23 },
  { text: "2013", km: -4.7, dh: -30.4, color: "#d81c2a", size: 23 }
];

var width = 1593, height = 814;
var stretch = "scale(1.12,1)";

var svg = d3.select("#chart").append("svg")
  .attr("width", width).attr("height", height)
  .style("background", "#fff");

var x = d3.scaleLinear().domain([-9.55, 79.2]).range([125, 1593]);
var y = d3.scaleLinear().domain([-56.3, 41.2]).range([729, 14]);

// zero reference
svg.append("line")
  .attr("x1", x(-9.55)).attr("x2", x(77.9))
  .attr("y1", y(0)).attr("y2", y(0))
  .attr("stroke", "#d9d9d9").attr("stroke-width", 2);

var line = d3.line()
  .defined(function (d) { return d[1] !== null; })
  .x(function (d) { return x(d[0]); })
  .y(function (d) { return y(d[1]); });

var tracks = [
  { data: s2013, color: "#e4141c" },
  { data: s2012, color: "#7b1026" },
  { data: s2014, color: "#f5a623" },
  { data: s2015, color: "#3ddc2c" },
  { data: s2016, color: "#38c5ea" },
  { data: s2017, color: "#707070" },
  { data: s2018, color: "#0a0a0a" }
];

svg.append("path")
  .attr("d", line(s2014arc))
  .attr("fill", "none")
  .attr("stroke", "#f3c070")
  .attr("stroke-width", 1.4);

svg.append("g")
  .selectAll("path")
  .data(tracks)
  .join("path")
  .attr("d", function (d) { return line(d.data); })
  .attr("fill", "none")
  .attr("stroke", function (d) { return d.color; })
  .attr("stroke-width", 3.8)
  .attr("stroke-linejoin", "round")
  .attr("stroke-linecap", "round");

var dotSets = [
  { data: dotsYellow, color: "#e2dc5c" },
  { data: dotsGreen, color: "#4fd43f" },
  { data: dotsCyan, color: "#5bc3e3" },
  { data: dotsGray, color: "#7d7d7d" },
  { data: dotsDarkRed, color: "#8e2236" },
  { data: dotsRed, color: "#d8202a" },
  { data: dotsBlack, color: "#222" }
];

dotSets.forEach(function (set) {
  svg.append("g")
    .selectAll("circle")
    .data(set.data)
    .join("circle")
    .attr("cx", function (d) { return x(d[0]); })
    .attr("cy", function (d) { return y(d[1]); })
    .attr("r", 1.7)
    .attr("fill", set.color);
});

// axes
var yAxis = svg.append("g")
  .attr("transform", "translate(" + x(-9.55) + ",0)")
  .call(d3.axisLeft(y).tickValues(yTicks).tickSize(-12).tickSizeOuter(0).tickPadding(8)
    .tickFormat(function (d) { return d < 0 ? "\u2212" + Math.abs(d) : d; }));

var xAxis = svg.append("g")
  .attr("transform", "translate(0," + y(-56.3) + ")")
  .call(d3.axisBottom(x).tickValues(xTicks).tickSize(-12).tickSizeOuter(0).tickPadding(17));

[yAxis, xAxis].forEach(function (ax) {
  ax.select(".domain").attr("stroke", "#555").attr("stroke-width", 2);
  ax.selectAll(".tick line").attr("stroke", "#555").attr("stroke-width", 1.6);
  ax.selectAll(".tick text")
    .attr("fill", "#1a1a1a")
    .style("font-size", "25px")
    .style("font-family", "'Liberation Sans', Arial, sans-serif")
    .attr("transform", stretch);
});

// axis titles
svg.append("text")
  .attr("transform", "translate(" + (x(30) + 83) + ",808) " + stretch)
  .attr("text-anchor", "middle")
  .style("font-size", "25px")
  .attr("fill", "#1a1a1a")
  .text("Distance from 2017 front (km)");

svg.append("text")
  .attr("transform", "translate(44," + y(-9.8) + ") rotate(-90)")
  .attr("text-anchor", "middle")
  .style("font-size", "28px")
  .attr("fill", "#1a1a1a")
  .text("Surface elevation change (m)");

// year labels
svg.append("g")
  .selectAll("text")
  .data(yearLabels)
  .join("text")
  .attr("transform", function (d) { return "translate(" + x(d.km) + "," + y(d.dh) + ") " + stretch; })
  .style("font-size", function (d) { return d.size + "px"; })
  .attr("fill", function (d) { return d.color; })
  .text(function (d) { return d.text; });

svg.append("text")
  .attr("transform", "translate(" + x(-5.45) + "," + y(-55.1) + ") " + stretch)
  .style("font-size", "26px")
  .attr("fill", "#1a1a1a")
  .text("A");
</script>
</body>
</html>
